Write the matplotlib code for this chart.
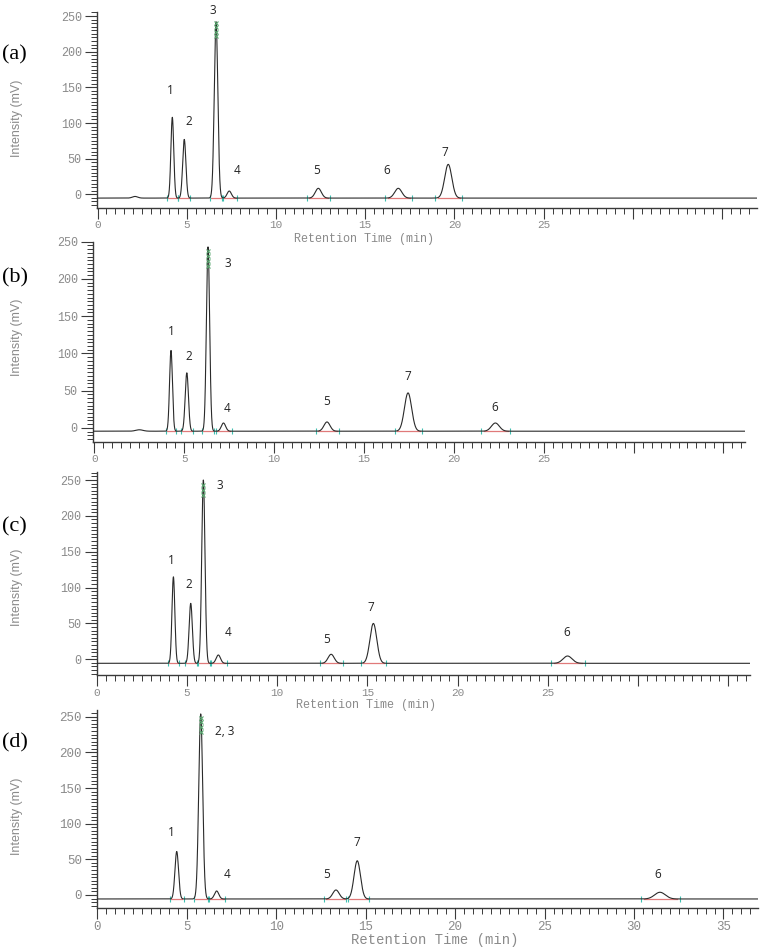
import numpy as np
import matplotlib
matplotlib.use("Agg")
import matplotlib.pyplot as plt
from matplotlib.ticker import MultipleLocator

# ------------------------------------------------------------------ data
panel_names = ["(a)", "(b)", "(c)", "(d)"]

# retention time (min), apex intensity (mV), peak sigma (min)
a_rt    = [2.1, 4.19, 4.86, 6.64, 7.38, 12.37, 16.85, 19.65]
a_apex  = [-3.0, 108, 77, 242, 4.6, 8.4, 8.4, 42]
a_sigma = [0.15, 0.08, 0.09, 0.10, 0.12, 0.17, 0.20, 0.20]
a_base  = -5.3
a_lab   = ["1", "2", "3", "4", "5", "6", "7"]
a_lab_x = [4.1, 5.13, 6.45, 7.8, 12.3, 16.2, 19.47]
a_lab_y = [146, 102, 258, 33, 33, 33, 58]
a_marks = [222, 228, 234, 240]

b_rt    = [2.5, 4.26, 5.14, 6.32, 7.18, 12.94, 17.45, 22.31]
b_apex  = [-2.5, 104, 74, 243, 6.6, 8, 47, 6.6]
b_sigma = [0.2, 0.08, 0.09, 0.09, 0.12, 0.17, 0.20, 0.22]
b_base  = -4.4
b_lab   = ["1", "2", "3", "4", "5", "7", "6"]
b_lab_x = [4.26, 5.26, 7.4, 7.4, 12.94, 17.43, 22.27]
b_lab_y = [129, 96, 221, 26.5, 36, 69, 27]
b_marks = [217, 224, 231, 238]

c_rt    = [4.25, 5.21, 5.91, 6.74, 12.99, 15.33, 26.09]
c_apex  = [115, 78, 250, 6, 7, 50, 4.6]
c_sigma = [0.08, 0.09, 0.09, 0.12, 0.17, 0.19, 0.25]
c_base  = -5.6
c_lab   = ["1", "2", "3", "4", "5", "7", "6"]
c_lab_x = [4.12, 5.12, 6.8, 7.26, 12.75, 15.19, 26.05]
c_lab_y = [138, 104, 242, 38, 28, 72, 38]
c_marks = [229, 236, 243]

d_rt    = [4.44, 5.78, 6.67, 13.34, 14.53, 31.45]
d_apex  = [61, 254, 5.6, 7, 48, 3.8]
d_sigma = [0.10, 0.11, 0.12, 0.18, 0.18, 0.30]
d_base  = -5.6
d_lab   = ["1", "2, 3", "4", "5", "7", "6"]
d_lab_x = [4.12, 7.13, 7.28, 12.82, 14.53, 31.3]
d_lab_y = [87, 230, 29, 29, 73, 29]
d_marks = [229, 236, 242, 248]

x_ticks = [0, 5, 10, 15, 20, 25, 30, 35]
abc_xticklabels = ["0", "5", "10", "15", "20", "25", "", ""]
d_xticklabels   = ["0", "5", "10", "15", "20", "25", "30", "35"]
y_ticks = [0, 50, 100, 150, 200, 250]
y_ticklabels = ["0", "50", "100", "150", "200", "250"]
x_title = "Retention Time (min)"
y_title = "Intensity (mV)"

# ------------------------------------------------------------------ layout
W, H = 760, 951
rects_px = [  # left, top, right, bottom (pixels)
    (97.0, 12.0, 757.0, 208.0),
    (93.0, 241.7, 745.0, 441.7),
    (96.7, 471.7, 750.0, 675.0),
    (97.3, 710.0, 758.0, 908.3),
]
xlims = [(-0.03, 36.95), (-0.08, 36.2), (0.0, 36.2), (0.0, 36.93)]
ylims = [(-19.2, 255.7), (-18.5, 246.4), (-21.9, 261.6), (-18.7, 259.5)]
letter_y_px = [55, 278, 527, 743]
ylabel_pos = [0.46, 0.52, 0.43, 0.465]
xlabel_px = [(364, 239), None, (366, 705), (435, 940)]

panels = [
    (a_rt, a_apex, a_sigma, a_base, a_lab, a_lab_x, a_lab_y, a_marks, abc_xticklabels),
    (b_rt, b_apex, b_sigma, b_base, b_lab, b_lab_x, b_lab_y, b_marks, abc_xticklabels),
    (c_rt, c_apex, c_sigma, c_base, c_lab, c_lab_x, c_lab_y, c_marks, abc_xticklabels),
    (d_rt, d_apex, d_sigma, d_base, d_lab, d_lab_x, d_lab_y, d_marks, d_xticklabels),
]

mono = ["Liberation Mono", "DejaVu Sans Mono"]
narrow = ["Liberation Sans Narrow", "Liberation Sans", "DejaVu Sans"]
gray = "#8a8a8a"
axis_col = "#3a3a3a"

fig = plt.figure(figsize=(W / 100, H / 100), dpi=100)
fig.patch.set_facecolor("white")

for i, (rt, apex, sig, base, lab, lx, ly, marks, xtl) in enumerate(panels):
    l, t, r, b = rects_px[i]
    ax = fig.add_axes([l / W, 1 - b / H, (r - l) / W, (b - t) / H])
    x0, x1 = xlims[i]
    ax.set_xlim(x0, x1)
    ax.set_ylim(*ylims[i])

    tt = np.linspace(x0, x1, 8000)
    yy = np.full_like(tt, base)
    for p, h, s in zip(rt, apex, sig):
        yy += (h - base) * np.exp(-0.5 * ((tt - p) / s) ** 2)

    # integration baselines and markers
    for p, h, s in zip(rt, apex, sig):
        if h - base < 3:
            continue
        ax.plot([p - 3 * s, p + 3.2 * s], [base, base], color="#e07a7a", lw=0.9, zorder=2)
        ax.plot([p - 3.6 * s, p + 3.8 * s], [base, base], ls="none", marker="|",
                ms=4, mew=0.8, color="#3fbfb0", zorder=3)

    ax.plot(tt, yy, color="#2a2a2a", lw=0.8, zorder=4)

    top = rt[int(np.argmax(apex))]
    ax.plot([top] * len(marks), marks, ls="none", marker="x", ms=3.5, mew=0.8,
            color="#5aa870", zorder=5)

    for s_, x_, y_ in zip(lab, lx, ly):
        ax.text(x_, y_, s_, ha="center", va="center", fontsize=8.5,
                family=["Open Sans", "DejaVu Sans"], color="#222222", clip_on=False)

    for sp in ["top", "right"]:
        ax.spines[sp].set_visible(False)
    for sp in ["left", "bottom"]:
        ax.spines[sp].set_color(axis_col)
        ax.spines[sp].set_linewidth(1.0)

    fs_y = 9 if i == 3 else 8.5
    ax.set_yticks(y_ticks, y_ticklabels, fontsize=fs_y, family=mono, color=gray)
    ax.yaxis.set_minor_locator(MultipleLocator(5))
    fs_x = 9 if i == 3 else 8
    ax.set_xticks(x_ticks, xtl, fontsize=fs_x, family=mono, color=gray)
    ax.xaxis.set_minor_locator(MultipleLocator(0.5))
    ax.tick_params(axis="both", which="major", direction="out", length=9, width=0.8,
                   color=axis_col, pad=2)
    ax.tick_params(axis="both", which="minor", direction="out", length=4.5, width=0.7,
                   color=axis_col)
    ax.tick_params(axis="x", which="major", length=8, pad=1)
    ax.set_facecolor("none")

    ax.set_ylabel(y_title, fontsize=9, family=narrow, color=gray)
    ax.yaxis.set_label_coords((17 - l) / (r - l), ylabel_pos[i])
    ax.yaxis.label.set_verticalalignment("center")

    if xlabel_px[i] is not None:
        lxp, lyp = xlabel_px[i]
        ax.set_xlabel(x_title, fontsize=10 if i == 3 else 8.5, family=mono, color=gray)
        ax.xaxis.set_label_coords((lxp - l) / (r - l), -(lyp - b) / (b - t))
        ax.xaxis.label.set_verticalalignment("center")

    fig.text(2 / W, 1 - letter_y_px[i] / H, panel_names[i], ha="left", va="center",
             fontsize=16, family=["Liberation Serif", "DejaVu Serif"], color="black")

fig.savefig("out.png", dpi=100, facecolor="white")
